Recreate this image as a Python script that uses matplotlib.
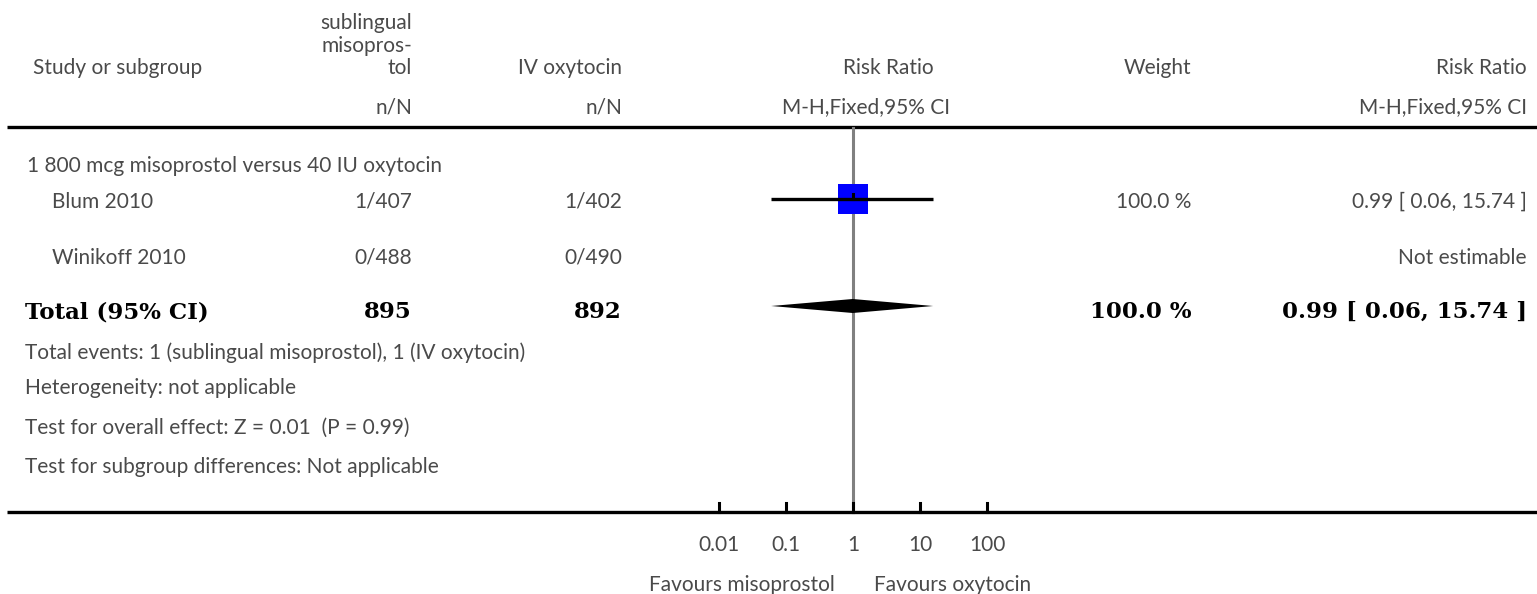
import matplotlib
matplotlib.use("Agg")
import matplotlib.pyplot as plt

# data
group_title = "1 800 mcg misoprostol versus 40 IU oxytocin"
studies = ["Blum 2010", "Winikoff 2010"]
events_miso = [1, 0]
n_miso = [407, 488]
events_oxy = [1, 0]
n_oxy = [402, 490]
rr = [0.99, None]
rr_lo = [0.06, None]
rr_hi = [15.74, None]
weights = [100.0, None]

total_n_miso = 895
total_n_oxy = 892
total_rr = 0.99
total_lo = 0.06
total_hi = 15.74
total_weight = 100.0

footer_lines = ["Total events: 1 (sublingual misoprostol), 1 (IV oxytocin)",
                "Heterogeneity: not applicable",
                "Test for overall effect: Z = 0.01  (P = 0.99)",
                "Test for subgroup differences: Not applicable"]
ticks = [0.01, 0.1, 1, 10, 100]
tick_labels = ["0.01", "0.1", "1", "10", "100"]
favours = ["Favours misoprostol", "Favours oxytocin"]

# layout (pixel rows / columns)
W, H = 1537, 594
row_study = [202, 258]
row_group = 166
row_total = 312
rows_footer = [353, 388, 428, 467]
top_rule, bottom_rule = 127, 512

txt = dict(family="Lato", size=15, color="#4a4a4a")
bold = dict(family="DejaVu Serif", size=16.5, weight="bold", color="black")

fig = plt.figure(figsize=(W / 100, H / 100), dpi=100)
ax = fig.add_axes([0, 0, 1, 1])
ax.set_xlim(0, W)
ax.set_ylim(H, 0)
ax.axis("off")

# forest panel: log axis, 1 at x=853, one decade ~67 px
fax = fig.add_axes([652 / W, 0, 402 / W, 1])
fax.set_xscale("log")
fax.set_xlim(0.001, 1000)
fax.set_ylim(H, 0)
fax.axis("off")

# header
ax.text(412, 23, "sublingual", ha="right", va="center", **txt)
ax.text(412, 46, "misopros-", ha="right", va="center", **txt)
ax.text(412, 68, "tol", ha="right", va="center", **txt)
ax.text(33, 68, "Study or subgroup", ha="left", va="center", **txt)
ax.text(622, 68, "IV oxytocin", ha="right", va="center", **txt)
ax.text(888, 68, "Risk Ratio", ha="center", va="center", **txt)
ax.text(1191, 68, "Weight", ha="right", va="center", **txt)
ax.text(1527, 68, "Risk Ratio", ha="right", va="center", **txt)
ax.text(412, 107, "n/N", ha="right", va="center", **txt)
ax.text(622, 107, "n/N", ha="right", va="center", **txt)
ax.text(866, 107, "M-H,Fixed,95% CI", ha="center", va="center", **txt)
ax.text(1527, 107, "M-H,Fixed,95% CI", ha="right", va="center", **txt)

ax.plot([7, W], [top_rule, top_rule], color="black", lw=2.4, solid_capstyle="butt")
ax.plot([7, W], [bottom_rule, bottom_rule], color="black", lw=2.4, solid_capstyle="butt")

# line of no effect
fax.plot([1, 1], [top_rule + 1, bottom_rule], color="#808080", lw=2.2, zorder=1)

ax.text(27, row_group, group_title, ha="left", va="center", **txt)

for i, name in enumerate(studies):
    y = row_study[i]
    ax.text(52, y, name, ha="left", va="center", **txt)
    ax.text(412, y, f"{events_miso[i]}/{n_miso[i]}", ha="right", va="center", **txt)
    ax.text(622, y, f"{events_oxy[i]}/{n_oxy[i]}", ha="right", va="center", **txt)
    if rr[i] is None:
        ax.text(1527, y, "Not estimable", ha="right", va="center", **txt)
        continue
    ax.text(1191, y, f"{weights[i]:.1f} %", ha="right", va="center", **txt)
    ax.text(1527, y, f"{rr[i]:.2f} [ {rr_lo[i]:.2f}, {rr_hi[i]:.2f} ]",
            ha="right", va="center", **txt)
    yc = y - 3
    fax.plot(rr[i], yc, marker="s", color="#0000ff", mec="#0000ff", mew=0,
             markersize=21.5 * (weights[i] / 100) ** 0.5, zorder=2)
    fax.plot([rr_lo[i], rr_hi[i]], [yc, yc], color="black", lw=2.4,
             solid_capstyle="butt", zorder=3)
    fax.plot([rr[i], rr[i]], [yc - 5, yc], color="black", lw=2.2, zorder=3)

# total row
ax.text(25, row_total, "Total (95% CI)", ha="left", va="center", **bold)
ax.text(412, row_total, f"{total_n_miso}", ha="right", va="center", **bold)
ax.text(622, row_total, f"{total_n_oxy}", ha="right", va="center", **bold)
ax.text(1191, row_total, f"{total_weight:.1f} %", ha="right", va="center", **bold)
ax.text(1527, row_total, f"{total_rr:.2f} [ {total_lo:.2f}, {total_hi:.2f} ]",
        ha="right", va="center", **bold)
yd = row_total - 6
fax.fill([total_lo, total_rr, total_hi, total_rr],
         [yd, yd - 7, yd, yd + 7], color="black", lw=0, zorder=3)

for y, line in zip(rows_footer, footer_lines):
    ax.text(25, y, line, ha="left", va="center", **txt)

# axis ticks and labels
for t, lab in zip(ticks, tick_labels):
    fax.plot([t, t], [503, bottom_rule], color="black", lw=2.2, zorder=4)
    fax.text(t, 545, lab, ha="center", va="center", **txt)

ax.text(742, 585, favours[0], ha="center", va="center", **txt)
ax.text(953, 585, favours[1], ha="center", va="center", **txt)

fig.savefig("out.png", dpi=100)
